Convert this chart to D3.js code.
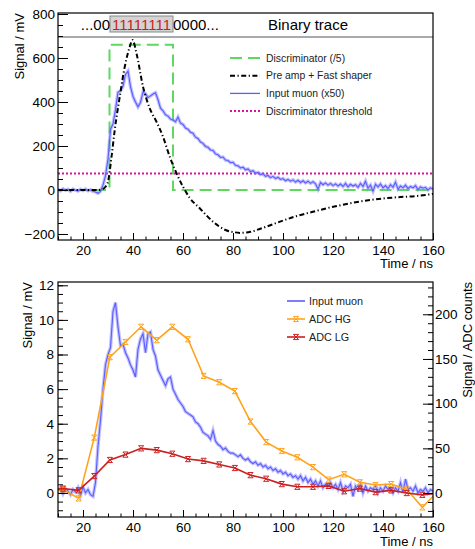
<!DOCTYPE html>
<html>
<head>
<meta charset="utf-8">
<script src="https://cdn.jsdelivr.net/npm/d3@7"></script>
<style>
  body { margin: 0; background: #fff; }
  svg { display: block; font-family: "Liberation Sans", Arial, sans-serif; }
</style>
</head>
<body>
<script>
// ---- data ----

// top panel: input muon (x50), one sample per ns from 10 to 160
var muonTopStart = 10;
var muonTop = [
  2, -4, 5, -2, 3, -6, 4, -1, -5, 3,
  -3, 4, -4, 1, -6, -9, -15, -6, 22, 65,
  140, 275, 300, 365, 445, 450, 472, 525, 540, 470,
  425, 400, 378, 398, 445, 438, 420, 428, 436, 442,
  410, 372, 360, 342, 336, 322, 318, 310, 332, 304,
  298, 282, 276, 262, 258, 240, 234, 218, 212, 198,
  194, 182, 180, 164, 160, 148, 150, 136, 134, 124,
  126, 112, 110, 100, 104, 92, 96, 84, 88, 76,
  80, 70, 74, 62, 66, 56, 62, 52, 58, 48,
  52, 42, 48, 40, 46, 36, 44, 34, 42, 32,
  40, 30, 38, 28, 4, 34, 24, 32, 22, 30,
  20, 28, 18, 27, 16, 30, 14, 26, 18, 24,
  12, 30, 16, 40, 8, 22, -6, 26, 14, 28,
  10, 20, 6, 24, 12, 36, 4, 18, 10, 22,
  6, 16, 10, 20, 2, 14, 8, 12, 0, 10, 4
];

// top panel: pre amp + fast shaper (t, mV)
var shaperT = [10, 26, 28, 29, 30, 31.4, 32.7, 34.7, 36.7, 38.7, 39.8, 41.4, 44, 46.7, 49.4, 52, 54.7, 57.4, 60, 62.7,
  66.6, 72, 77, 80, 83, 87, 92, 98.8, 105, 112, 119, 127, 135, 145.6, 153.6, 160];
var shaperV = [0, 0, 5, 15, 38, 150, 273, 424, 560, 651, 682, 621, 470, 371, 310, 242, 151, 76, 15, -36,
  -82, -144, -182, -191, -195, -190, -172, -144, -120, -99, -79, -60, -45, -33, -27, -18];

// top panel: discriminator output (/5)
var discT = [10, 30.6, 30.6, 56, 56, 160];
var discV = [0, 0, 660, 660, 0, 0];
var threshold = 75;

// bottom panel: input muon in mV, one sample per ns from 10 to 160
var muonBotStart = 10;
var muonBot = [
  0.15, 0.3, -0.05, 0.25, 0.1, -0.1, 0.2, 0.05, 0.3, -0.15,
  0.35, 0.0, 0.2, -0.1, -0.2, 0.6, 2.7, 4.2, 6.0, 7.4,
  8.0, 8.4, 10.5, 11.0, 9.6, 8.5, 8.6, 8.1, 7.8, 7.4,
  7.1, 6.7, 8.3, 8.9, 9.2, 8.1, 9.2, 9.3, 8.3, 7.9,
  7.1, 6.8, 6.5, 6.2, 6.6, 6.7, 6.0, 5.7, 5.4, 5.2,
  5.0, 4.7, 4.6, 4.5, 4.4, 4.1, 4.0, 3.8, 3.5, 3.4,
  3.3, 3.1, 3.6, 3.0, 2.8, 2.7, 2.5, 2.6, 2.4, 2.3,
  2.3, 2.2, 2.1, 2.2, 2.0, 1.9, 2.0, 1.8, 1.7, 1.8,
  1.6, 1.7, 1.5, 1.6, 1.4, 1.5, 1.3, 1.4, 1.2, 1.3,
  1.1, 1.2, 1.0, 1.1, 0.9, 1.0, 0.8, 1.0, 0.7, 0.9,
  0.6, 0.8, 0.5, 0.7, 0.4, 0.7, 0.3, 0.5, 0.4, 0.6,
  0.3, 0.5, 0.2, 0.6, 0.1, 0.4, 0.3, 0.5, -0.2, 0.4,
  0.2, 0.5, 0.0, 0.4, 0.1, 0.3, 0.2, 0.4, 0.0, 0.3,
  0.1, 0.4, 0.2, 0.3, 0.0, 0.3, 0.1, 0.6, 0.0, 0.8,
  0.2, 0.3, 0.1, 0.4, 0.0, 0.2, 0.1, 0.3, 0.0, 0.2, 0.1
];

// bottom panel: ADC samples (ADC counts)
var adcT = [5.75, 12, 18.25, 24.5, 30.75, 37, 43.25, 49.5, 55.75, 62, 68.25, 74.5, 80.75, 87, 93.25, 99.5,
  105.75, 112, 118.25, 124.5, 130.75, 137, 143.25, 149.5, 155.75, 162];
var adcHG = [0, 4, -6, 62, 152, 169, 186, 171, 186, 172, 131, 124, 114, 80, 57, 47,
  40, 29, 15, 21, 12, 9, 10, 4, -16, 2];
var adcLG = [3, 5, 3, 19, 37, 43, 50, 48, 44, 38, 36, 32, 28, 20, 16, 10,
  7, 7, 8, 2, 5, 1, 3, 0, -2, 0];

var xTicks = [20, 40, 60, 80, 100, 120, 140, 160];
var topYTicks = [-200, 0, 200, 400, 600, 800];
var botYTicks = [0, 2, 4, 6, 8, 10, 12];
var botY2Ticks = [0, 50, 100, 150, 200];

var binaryPre = '...00', binaryOnes = '11111111', binaryPost = '0000...';

// ---- drawing ----
var W = 475, H = 549;
var svg = d3.select('body').append('svg')
  .attr('width', W)
  .attr('height', H);

var colBlue = '#5c5cff', colGreen = '#5fd85f', colMag = '#e0109c',
    colOrange = '#ffa31a', colRed = '#cc1f1f';

var fmtMinus = function(d) { return d < 0 ? '\u2212' + Math.abs(d) : d; };

function frame(g, L, R, T, B) {
  g.append('rect')
    .attr('x', L).attr('y', T)
    .attr('width', R - L).attr('height', B - T)
    .attr('fill', 'none').attr('stroke', '#000').attr('stroke-width', 1.2);
}

function styleAxis(sel) {
  sel.select('.domain').remove();
  sel.selectAll('line').attr('stroke', '#000');
  sel.selectAll('text').attr('font-size', 13.5).attr('fill', '#000')
    .style('font-family', '"Liberation Sans", Arial, sans-serif');
}

function xAxes(g, x, y0) {
  var minor = d3.range(10, 161, 5);
  g.append('g').attr('transform', 'translate(0,' + y0 + ')')
    .call(d3.axisBottom(x).tickValues(minor).tickSize(-3.5).tickFormat(''))
    .call(styleAxis);
  g.append('g').attr('transform', 'translate(0,' + y0 + ')')
    .call(d3.axisBottom(x).tickValues(xTicks).tickSize(-7).tickPadding(5))
    .call(styleAxis);
}

// noisy trace: a soft wide stroke under a thin one
function trace(g, data, line) {
  g.append('path').datum(data).attr('d', line)
    .attr('fill', 'none').attr('stroke', '#8484ff').attr('stroke-width', 3.4).attr('opacity', 0.5);
  g.append('path').datum(data).attr('d', line)
    .attr('fill', 'none').attr('stroke', colBlue).attr('stroke-width', 1.1);
}

// ===== top panel =====
var L = 58, R = 433;
var tT = 13, tB = 240;
var x = d3.scaleLinear().domain([10, 160]).range([L, R]);
var yT = d3.scaleLinear().domain([-227.3, 804.5]).range([tB, tT]);

var topPanel = svg.append('g');
topPanel.append('clipPath').attr('id', 'clipTop')
  .append('rect').attr('x', L).attr('y', tT).attr('width', R - L).attr('height', tB - tT);

var plotT = topPanel.append('g').attr('clip-path', 'url(#clipTop)');

// discriminator
plotT.append('path')
  .datum(d3.range(discT.length))
  .attr('d', d3.line().x(function(i) { return x(discT[i]); }).y(function(i) { return yT(discV[i]); }))
  .attr('fill', 'none').attr('stroke', colGreen).attr('stroke-width', 2)
  .attr('stroke-dasharray', '12,6');

// threshold
plotT.append('line')
  .attr('x1', x(10)).attr('x2', x(160))
  .attr('y1', yT(threshold)).attr('y2', yT(threshold))
  .attr('stroke', colMag).attr('stroke-width', 2).attr('stroke-dasharray', '2,2');

// input muon x50
trace(plotT, muonTop, d3.line()
  .x(function(d, i) { return x(muonTopStart + i); })
  .y(function(d) { return yT(d); }));

// pre amp + fast shaper
plotT.append('path')
  .datum(d3.range(shaperT.length))
  .attr('d', d3.line().curve(d3.curveMonotoneX)
    .x(function(i) { return x(shaperT[i]); }).y(function(i) { return yT(shaperV[i]); }))
  .attr('fill', 'none').attr('stroke', '#000').attr('stroke-width', 2)
  .attr('stroke-dasharray', '5,2.5,1.2,2.5');

// binary trace header
var hdrB = 37;
topPanel.append('rect').attr('x', L).attr('y', tT).attr('width', R - L).attr('height', hdrB - tT)
  .attr('fill', '#fff');
topPanel.append('line').attr('x1', L).attr('x2', R).attr('y1', hdrB).attr('y2', hdrB)
  .attr('stroke', '#555').attr('stroke-width', 1);
topPanel.append('rect').attr('x', 110).attr('y', 16).attr('width', 63).attr('height', 16)
  .attr('fill', '#d4d4d4').attr('stroke', '#888').attr('stroke-width', 1);
topPanel.append('text').attr('x', 110).attr('y', 30).attr('text-anchor', 'end')
  .attr('font-size', 15).text(binaryPre);
topPanel.append('text').attr('x', 112).attr('y', 30).attr('font-size', 15)
  .attr('fill', '#d01c1c').attr('textLength', 59).attr('lengthAdjust', 'spacingAndGlyphs')
  .text(binaryOnes);
topPanel.append('text').attr('x', 173).attr('y', 30).attr('font-size', 15).text(binaryPost);
topPanel.append('text').attr('x', 308).attr('y', 29.5).attr('text-anchor', 'middle')
  .attr('font-size', 15).text('Binary trace');

// axes
topPanel.append('g').attr('transform', 'translate(' + L + ',0)')
  .call(d3.axisLeft(yT).tickValues(d3.range(-200, 801, 50)).tickSize(-5).tickFormat(''))
  .call(styleAxis);
topPanel.append('g').attr('transform', 'translate(' + L + ',0)')
  .call(d3.axisLeft(yT).tickValues(topYTicks).tickSize(-10).tickPadding(3).tickFormat(fmtMinus))
  .call(styleAxis);
xAxes(topPanel, x, tB);
frame(topPanel, L, R, tT, tB);

topPanel.append('text')
  .attr('transform', 'translate(24,' + tT + ') rotate(-90)')
  .attr('text-anchor', 'end').attr('font-size', 13).text('Signal / mV');
topPanel.append('text').attr('x', R).attr('y', 268).attr('text-anchor', 'end')
  .attr('font-size', 13).text('Time / ns');

// legend (top)
var legTop = [
  { label: 'Discriminator (/5)', stroke: colGreen, dash: '12,6', w: 2 },
  { label: 'Pre amp + Fast shaper', stroke: '#000', dash: '5,2.5,1.2,2.5', w: 2 },
  { label: 'Input muon (x50)', stroke: colBlue, dash: null, w: 1.3 },
  { label: 'Discriminator threshold', stroke: colMag, dash: '2,2', w: 2 }
];
var lt = topPanel.append('g').selectAll('g').data(legTop).enter().append('g')
  .attr('transform', function(d, i) { return 'translate(0,' + (58 + i * 17.7) + ')'; });
lt.append('line').attr('x1', 230).attr('x2', 260)
  .attr('stroke', function(d) { return d.stroke; })
  .attr('stroke-width', function(d) { return d.w; })
  .attr('stroke-dasharray', function(d) { return d.dash; });
lt.append('text').attr('x', 266).attr('y', 3.6).attr('font-size', 10.4)
  .attr('fill', '#222').text(function(d) { return d.label; });

// ===== bottom panel =====
var bT = 282, bB = 517;
var yB = d3.scaleLinear().domain([-1.39, 12.19]).range([bB, bT]);
var yB2 = d3.scaleLinear().domain([-26.8, 236.1]).range([bB, bT]);

var botPanel = svg.append('g');
botPanel.append('clipPath').attr('id', 'clipBot')
  .append('rect').attr('x', L).attr('y', bT).attr('width', R - L).attr('height', bB - bT);
var plotB = botPanel.append('g').attr('clip-path', 'url(#clipBot)');

trace(plotB, muonBot, d3.line()
  .x(function(d, i) { return x(muonBotStart + i); })
  .y(function(d) { return yB(d); }));

function marker(g, px, py, col) {
  var s = 2.6;
  g.append('path')
    .attr('d', 'M' + (px - s) + ',' + (py - s) + 'L' + (px + s) + ',' + (py + s) +
      'M' + (px + s) + ',' + (py - s) + 'L' + (px - s) + ',' + (py + s) +
      'M' + (px - s) + ',' + (py - s) + 'L' + (px + s) + ',' + (py - s) +
      'M' + (px - s) + ',' + (py + s) + 'L' + (px + s) + ',' + (py + s))
    .attr('stroke', col).attr('stroke-width', 1).attr('fill', 'none');
}

function adcSeries(vals, col) {
  plotB.append('path')
    .datum(d3.range(adcT.length))
    .attr('d', d3.line().x(function(i) { return x(adcT[i]); }).y(function(i) { return yB2(vals[i]); }))
    .attr('fill', 'none').attr('stroke', col).attr('stroke-width', 1.6);
  adcT.forEach(function(t, i) {
    if (t >= 10 && t <= 160) marker(plotB, x(t), yB2(vals[i]), col);
  });
}
adcSeries(adcHG, colOrange);
adcSeries(adcLG, colRed);

botPanel.append('g').attr('transform', 'translate(' + L + ',0)')
  .call(d3.axisLeft(yB).tickValues(d3.range(-1, 12.01, 0.5)).tickSize(-5).tickFormat(''))
  .call(styleAxis);
botPanel.append('g').attr('transform', 'translate(' + L + ',0)')
  .call(d3.axisLeft(yB).tickValues(botYTicks).tickSize(-10).tickPadding(4))
  .call(styleAxis);
botPanel.append('g').attr('transform', 'translate(' + R + ',0)')
  .call(d3.axisRight(yB2).tickValues(d3.range(-20, 231, 10)).tickSize(-5).tickFormat(''))
  .call(styleAxis);
botPanel.append('g').attr('transform', 'translate(' + R + ',0)')
  .call(d3.axisRight(yB2).tickValues(botY2Ticks).tickSize(-10).tickPadding(2))
  .call(styleAxis);
xAxes(botPanel, x, bB);
frame(botPanel, L, R, bT, bB);

botPanel.append('text')
  .attr('transform', 'translate(32,' + bT + ') rotate(-90)')
  .attr('text-anchor', 'end').attr('font-size', 13).text('Signal / mV');
botPanel.append('text')
  .attr('transform', 'translate(471.5,' + bT + ') rotate(-90)')
  .attr('text-anchor', 'end').attr('font-size', 13).text('Signal / ADC counts');
botPanel.append('text').attr('x', R).attr('y', 546).attr('text-anchor', 'end')
  .attr('font-size', 13).text('Time / ns');

// legend (bottom)
var legBot = [
  { label: 'Input muon', col: colBlue, mark: false },
  { label: 'ADC HG', col: colOrange, mark: true },
  { label: 'ADC LG', col: colRed, mark: true }
];
legBot.forEach(function(d, i) {
  var ly = 301 + i * 18;
  botPanel.append('line').attr('x1', 287).attr('x2', 305).attr('y1', ly).attr('y2', ly)
    .attr('stroke', d.col).attr('stroke-width', 1.6);
  if (d.mark) marker(botPanel, 296, ly, d.col);
  botPanel.append('text').attr('x', 309).attr('y', ly + 3.8).attr('font-size', 10.8)
    .attr('fill', '#222').text(d.label);
});
</script>
</body>
</html>
